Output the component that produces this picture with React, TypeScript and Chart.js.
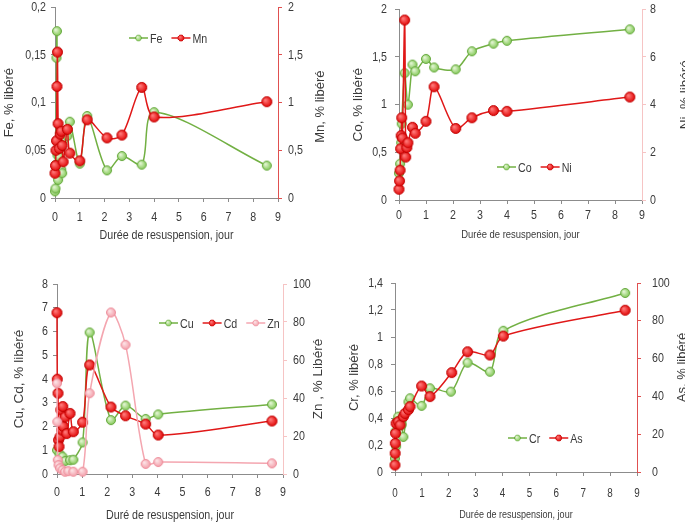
import React, { useEffect, useRef } from "react";
import { Chart, registerables } from "chart.js";
Chart.register(...registerables);

// ---------- DATA ----------
// Panel 1: Fe (left axis) / Mn (right axis)
const FE_DAYS = [0, 0.02, 0.04, 0.06, 0.08, 0.1, 0.125, 0.17, 0.21, 0.25, 0.29, 0.33, 0.5, 0.6, 1.0, 1.3, 2.1, 2.7, 3.5, 4.0, 8.55];
const FE = [0.007, 0.01, 0.035, 0.147, 0.175, 0.045, 0.019, 0.043, 0.028, 0.03, 0.026, 0.06, 0.065, 0.08, 0.036, 0.086, 0.029, 0.044, 0.035, 0.09, 0.034];
const MN_DAYS = [0, 0.02, 0.04, 0.06, 0.08, 0.1, 0.125, 0.17, 0.21, 0.25, 0.29, 0.33, 0.5, 0.6, 1.0, 1.3, 2.1, 2.7, 3.5, 4.0, 8.55];
const MN = [0.26, 0.34, 0.5, 0.6, 1.17, 1.53, 0.78, 0.52, 0.67, 0.7, 0.55, 0.38, 0.72, 0.47, 0.39, 0.82, 0.63, 0.66, 1.16, 0.85, 1.01];

// Panel 2: Co (left) / Ni (right)
const CO_DAYS = [0, 0.04, 0.08, 0.1, 0.21, 0.33, 0.5, 0.6, 1.0, 1.3, 2.1, 2.7, 3.5, 4.0, 8.55];
const CO = [0.28, 0.38, 0.6, 0.8, 1.33, 1.0, 1.42, 1.35, 1.48, 1.39, 1.37, 1.56, 1.64, 1.67, 1.79];
const NI_DAYS = [0, 0.02, 0.04, 0.06, 0.08, 0.1, 0.125, 0.21, 0.25, 0.29, 0.33, 0.5, 0.6, 1.0, 1.3, 2.1, 2.7, 3.5, 4.0, 8.55];
const NI = [0.45, 0.8, 1.25, 2.15, 2.7, 3.45, 2.6, 7.55, 1.8, 2.2, 2.4, 3.05, 2.8, 3.3, 4.75, 3.0, 3.45, 3.75, 3.72, 4.32];

// Panel 3: Cu, Cd (left) / Zn (right)
const CU_DAYS = [0, 0.1, 0.22, 0.33, 0.52, 0.65, 1.02, 1.3, 2.15, 2.73, 3.53, 4.03, 8.56];
const CU = [1.0, 0.85, 0.73, 0.55, 0.58, 0.6, 1.33, 5.96, 2.27, 2.88, 2.32, 2.51, 2.93];
const CD_DAYS = [0, 0.01, 0.04, 0.06, 0.08, 0.12, 0.15, 0.19, 0.23, 0.25, 0.32, 0.39, 0.52, 0.65, 1.02, 1.3, 2.15, 2.73, 3.53, 4.03, 8.56];
const CD = [6.79, 3.99, 3.4, 1.43, 1.15, 1.57, 2.7, 1.85, 2.84, 2.0, 2.4, 1.7, 2.55, 1.78, 2.18, 4.59, 2.82, 2.45, 2.1, 1.64, 2.23];
const ZN_DAYS = [0, 0.01, 0.03, 0.06, 0.12, 0.22, 0.32, 0.45, 0.65, 1.02, 1.3, 2.15, 2.73, 3.53, 4.03, 8.56];
const ZN = [47.7, 27.5, 7.4, 4.7, 3.0, 2.1, 1.2, 1.5, 1.2, 1.2, 42.5, 85, 68, 5.3, 6.3, 5.6];

// Panel 4: Cr (left) / As (right)
const CR_DAYS = [0, 0.02, 0.04, 0.08, 0.12, 0.19, 0.25, 0.31, 0.5, 0.56, 0.99, 1.3, 2.08, 2.7, 3.53, 4.03, 8.56];
const CR = [0.1, 0.3, 0.19, 0.38, 0.41, 0.385, 0.35, 0.26, 0.52, 0.546, 0.49, 0.62, 0.595, 0.81, 0.743, 1.046, 1.326];
const AS_DAYS = [0, 0.005, 0.01, 0.02, 0.04, 0.12, 0.19, 0.31, 0.37, 0.5, 0.56, 0.99, 1.3, 2.11, 2.7, 3.53, 4.03, 8.56];
const AS = [3.7, 9.9, 15.2, 20.5, 25.7, 26.6, 24.9, 29.3, 31, 33, 34.6, 45.5, 39.9, 52.6, 63.6, 61.9, 71.9, 85.6];

const X_MIN = 0;
const X_MAX = 9;
const X_STEP = 1;

// ---------- STYLE ----------
const TEXT = "#3a3a3a";
const FONT = "'Liberation Sans', Arial, sans-serif";
const GREY_AXIS = "#8c8c8c";
const GREEN_LINE = "#72b043";
const RED_LINE = "#e01818";
const PINK_LINE = "#f4a6b0";
const SX = 0.82; // horizontal condensing of horizontal text

const fmt = (v: any) => String(Number(Number(v).toFixed(3))).replace(".", ",");

function makeMarker(d: number, c0: string, c1: string, edge: string) {
  const size = d + 2;
  const cv = document.createElement("canvas");
  cv.width = size;
  cv.height = size;
  const g = cv.getContext("2d")!;
  const r = d / 2;
  const c = size / 2;
  const grad = g.createRadialGradient(c - r * 0.3, c - r * 0.3, 0.5, c, c, r);
  grad.addColorStop(0, c0);
  grad.addColorStop(1, c1);
  g.beginPath();
  g.arc(c, c, r - 0.5, 0, Math.PI * 2);
  g.fillStyle = grad;
  g.fill();
  g.lineWidth = 1;
  g.strokeStyle = edge;
  g.stroke();
  return cv;
}

function condenseText(ctx: any) {
  if (ctx._rawFillText) return;
  const rawFill = ctx.fillText.bind(ctx);
  const rawMeasure = ctx.measureText.bind(ctx);
  ctx._rawFillText = rawFill;
  ctx.fillText = (t: string, x: number, y: number, mw?: number) => {
    ctx.save();
    ctx.translate(x, y);
    ctx.scale(SX, 1);
    if (mw === undefined) rawFill(t, 0, 0);
    else rawFill(t, 0, 0, mw / SX);
    ctx.restore();
  };
  ctx.measureText = (t: string) => {
    const m = rawMeasure(t);
    return { width: m.width * SX, actualBoundingBoxAscent: m.actualBoundingBoxAscent, actualBoundingBoxDescent: m.actualBoundingBoxDescent };
  };
}

const extrasPlugin = {
  id: "extras",
  afterDraw(chart: any, _args: any, opts: any) {
    const { ctx, chartArea } = chart;
    const midY = (chartArea.top + chartArea.bottom) / 2;
    const midX = (chartArea.left + chartArea.right) / 2;
    const raw = ctx._rawFillText || ctx.fillText.bind(ctx);
    ctx.save();
    ctx.fillStyle = TEXT;
    ctx.textAlign = "center";
    ctx.textBaseline = "middle";
    // left title (vertical, not condensed)
    ctx.font = `${opts.vSize}px ${FONT}`;
    ctx.save();
    ctx.translate(opts.leftX, midY);
    ctx.rotate(-Math.PI / 2);
    raw(opts.leftTitle, 0, 0);
    ctx.restore();
    // right title
    ctx.save();
    ctx.translate(opts.rightX, midY + (opts.rightDy || 0));
    ctx.rotate(-Math.PI / 2);
    raw(opts.rightTitle, 0, 0);
    ctx.restore();
    // bottom title
    ctx.font = `${opts.xSize}px ${FONT}`;
    ctx.fillText(opts.bottomTitle, midX, opts.bottomY);
    // legend
    ctx.font = `13px ${FONT}`;
    ctx.textAlign = "left";
    let x = opts.legendX;
    const y = opts.legendY;
    const ms = 8;
    chart.data.datasets.forEach((ds: any) => {
      ctx.strokeStyle = ds.borderColor;
      ctx.lineWidth = 1.5;
      ctx.beginPath();
      ctx.moveTo(x, y);
      ctx.lineTo(x + 19, y);
      ctx.stroke();
      const m = ds.pointStyle;
      ctx.drawImage(m, x + 9.5 - ms / 2, y - ms / 2, ms, ms);
      ctx.fillStyle = TEXT;
      ctx.fillText(ds.label, x + 21, y + 1);
      x += 21 + ctx.measureText(ds.label).width + 9;
    });
    ctx.restore();
  },
};

type Series = { label: string; days: number[]; values: number[]; axis: string; line: string; marker: string; order: number };

type PanelDef = {
  left: number; top: number; w: number; h: number;
  area: { left: number; right: number; top: number; bottom: number };
  y: { min: number; max: number; step: number; pad: number };
  y1: { min: number; max: number; step: number; pad: number; color: string };
  xPad: number; xTickSize: number;
  series: Series[];
  extras: any;
};

const PANELS: PanelDef[] = [
  {
    left: 0, top: 0, w: 342, h: 262,
    area: { left: 55, right: 278, top: 5, bottom: 198 },
    y: { min: 0, max: 0.2, step: 0.05, pad: 5 },
    y1: { min: 0, max: 2, step: 0.5, pad: 6, color: "#e05050" },
    xPad: 8, xTickSize: 13,
    series: [
      { label: "Fe", days: FE_DAYS, values: FE, axis: "y", line: GREEN_LINE, marker: "green", order: 2 },
      { label: "Mn", days: MN_DAYS, values: MN, axis: "y1", line: RED_LINE, marker: "red", order: 1 },
    ],
    extras: { leftTitle: "Fe, % libéré", rightTitle: "Mn, % libéré", bottomTitle: "Durée de resuspension, jour", leftX: 9, rightX: 320, rightDy: 4, bottomY: 235, vSize: 13, xSize: 13, legendX: 129, legendY: 38 },
  },
  {
    left: 340, top: 0, w: 345, h: 262,
    area: { left: 59, right: 302, top: 7, bottom: 200 },
    y: { min: 0, max: 2, step: 0.5, pad: 8 },
    y1: { min: 0, max: 8, step: 2, pad: 4, color: "#f6c4c4" },
    xPad: 4, xTickSize: 13,
    series: [
      { label: "Co", days: CO_DAYS, values: CO, axis: "y", line: GREEN_LINE, marker: "green", order: 2 },
      { label: "Ni", days: NI_DAYS, values: NI, axis: "y1", line: RED_LINE, marker: "red", order: 1 },
    ],
    extras: { leftTitle: "Co, % libéré", rightTitle: "Ni, % libéré", bottomTitle: "Durée de resuspension, jour", leftX: 18, rightX: 345, rightDy: -10, bottomY: 235, vSize: 13.5, xSize: 11.5, legendX: 157, legendY: 167 },
  },
  {
    left: 0, top: 262, w: 342, h: 261,
    area: { left: 57, right: 283, top: 22, bottom: 212 },
    y: { min: 0, max: 8, step: 1, pad: 5 },
    y1: { min: 0, max: 100, step: 20, pad: 6, color: "#f6c4c4" },
    xPad: 7, xTickSize: 13,
    series: [
      { label: "Cu", days: CU_DAYS, values: CU, axis: "y", line: GREEN_LINE, marker: "green", order: 3 },
      { label: "Cd", days: CD_DAYS, values: CD, axis: "y", line: RED_LINE, marker: "red", order: 2 },
      { label: "Zn", days: ZN_DAYS, values: ZN, axis: "y1", line: PINK_LINE, marker: "pink", order: 1 },
    ],
    extras: { leftTitle: "Cu, Cd, % libéré", rightTitle: "Zn , % Libéré", bottomTitle: "Duré de resuspension, jour", leftX: 19, rightX: 318, rightDy: 0, bottomY: 253, vSize: 13.5, xSize: 13, legendX: 159, legendY: 61 },
  },
  {
    left: 340, top: 262, w: 345, h: 261,
    area: { left: 55, right: 297, top: 21, bottom: 210 },
    y: { min: 0, max: 1.4, step: 0.2, pad: 8 },
    y1: { min: 0, max: 100, step: 20, pad: 11, color: "#e05050" },
    xPad: 10, xTickSize: 12,
    series: [
      { label: "Cr", days: CR_DAYS, values: CR, axis: "y", line: GREEN_LINE, marker: "green", order: 2 },
      { label: "As", days: AS_DAYS, values: AS, axis: "y1", line: RED_LINE, marker: "red", order: 1 },
    ],
    extras: { leftTitle: "Cr, % libéré", rightTitle: "As, % libéré", bottomTitle: "Durée de resuspension, jour", leftX: 14, rightX: 342, rightDy: -10, bottomY: 253, vSize: 13, xSize: 11, legendX: 168, legendY: 176 },
  },
];

function buildConfig(p: PanelDef, markers: Record<string, HTMLCanvasElement>): any {
  const yFont = { family: FONT, size: 13, lineHeight: 0.2 };
  return {
    type: "line",
    data: {
      datasets: p.series.map((s) => ({
        label: s.label,
        data: s.days.map((d, i) => ({ x: d, y: s.values[i] })),
        yAxisID: s.axis,
        borderColor: s.line,
        backgroundColor: s.line,
        borderWidth: 1.5,
        pointStyle: markers[s.marker],
        pointRadius: 5,
        tension: 0.3,
        clip: false,
        fill: false,
        order: s.order,
      })),
    },
    options: {
      responsive: false,
      animation: false,
      events: [],
      layout: { padding: { top: p.area.top, left: 0, right: 0, bottom: 0 }, autoPadding: false },
      plugins: {
        legend: { display: false },
        tooltip: { enabled: false },
        extras: p.extras,
      },
      scales: {
        x: {
          type: "linear",
          min: X_MIN,
          max: X_MAX,
          ticks: { stepSize: X_STEP, padding: p.xPad, font: { family: FONT, size: p.xTickSize }, color: TEXT, callback: fmt, maxRotation: 0, autoSkip: false },
          grid: { drawOnChartArea: false, drawTicks: true, tickLength: 4, color: GREY_AXIS },
          border: { color: GREY_AXIS, width: 1 },
          afterFit: (s: any) => { s.height = p.h - p.area.bottom; },
        },
        y: {
          position: "left",
          min: p.y.min,
          max: p.y.max,
          ticks: { stepSize: p.y.step, padding: p.y.pad, font: yFont, color: TEXT, callback: fmt },
          grid: { drawOnChartArea: false, drawTicks: true, tickLength: 4, color: GREY_AXIS },
          border: { color: GREY_AXIS, width: 1 },
          afterFit: (s: any) => { s.width = p.area.left; },
        },
        y1: {
          position: "right",
          min: p.y1.min,
          max: p.y1.max,
          ticks: { stepSize: p.y1.step, padding: p.y1.pad, font: yFont, color: TEXT, callback: fmt },
          grid: { drawOnChartArea: false, drawTicks: true, tickLength: 4, color: p.y1.color },
          border: { color: p.y1.color, width: 1 },
          afterFit: (s: any) => { s.width = p.w - p.area.right; },
        },
      },
    },
    plugins: [extrasPlugin],
  };
}

function Panel({ p }: { p: PanelDef }) {
  const ref = useRef<HTMLCanvasElement | null>(null);
  useEffect(() => {
    if (!ref.current) return;
    const ctx = ref.current.getContext("2d");
    condenseText(ctx);
    const markers = {
      green: makeMarker(10, "#e4f5d4", "#7cc64e", "#66a83e"),
      red: makeMarker(11, "#ff7a7a", "#e00000", "#c00000"),
      pink: makeMarker(10, "#fde3e6", "#f29aa6", "#ee8f9c"),
    };
    const chart = new Chart(ref.current, buildConfig(p, markers));
    return () => chart.destroy();
  }, [p]);
  return (
    <canvas
      ref={ref}
      width={p.w}
      height={p.h}
      style={{ position: "absolute", left: p.left, top: p.top, width: p.w, height: p.h, display: "block" }}
    />
  );
}

export default function App() {
  return (
    <div style={{ position: "absolute", left: 0, top: 0, width: 685, height: 523, background: "#ffffff", overflow: "hidden" }}>
      {PANELS.map((p, i) => (
        <Panel key={i} p={p} />
      ))}
    </div>
  );
}
